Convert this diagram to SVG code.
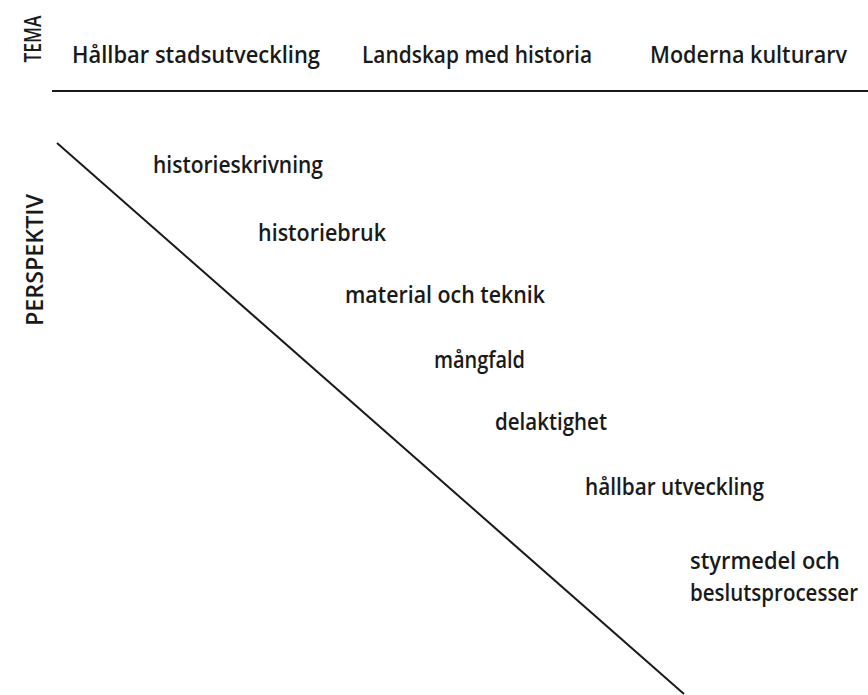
<svg xmlns="http://www.w3.org/2000/svg" width="868" height="695" viewBox="0 0 868 695">
<style>
text{font-family:"Open Sans","Liberation Sans",sans-serif;font-size:22.5px;font-weight:600;fill:#1a1a1a}
.ax{font-size:24px}
line{stroke:#1a1a1a;stroke-width:2}
</style>
<rect width="868" height="695" fill="#fff"/>
<g id="axis-tema"><text class="ax" transform="translate(41,39) rotate(-90)" text-anchor="middle" textLength="47" lengthAdjust="spacingAndGlyphs">TEMA</text></g>
<g id="axis-perspektiv"><text class="ax" transform="translate(43,260) rotate(-90)" text-anchor="middle" textLength="132" lengthAdjust="spacingAndGlyphs">PERSPEKTIV</text></g>
<g id="tema-1"><text x="72" y="63" textLength="248" lengthAdjust="spacingAndGlyphs">Hållbar stadsutveckling</text></g>
<g id="tema-2"><text x="362" y="63" textLength="230" lengthAdjust="spacingAndGlyphs">Landskap med historia</text></g>
<g id="tema-3"><text x="650" y="63" textLength="197" lengthAdjust="spacingAndGlyphs">Moderna kulturarv</text></g>
<g id="connectors">
<line x1="52" y1="91" x2="868" y2="91"/>
<line x1="57" y1="143" x2="684" y2="694"/>
</g>
<g id="p-1"><text x="153" y="173" textLength="170" lengthAdjust="spacingAndGlyphs">historieskrivning</text></g>
<g id="p-2"><text x="258" y="241" textLength="128" lengthAdjust="spacingAndGlyphs">historiebruk</text></g>
<g id="p-3"><text x="345" y="303" textLength="200" lengthAdjust="spacingAndGlyphs">material och teknik</text></g>
<g id="p-4"><text x="434" y="368" textLength="91" lengthAdjust="spacingAndGlyphs">mångfald</text></g>
<g id="p-5"><text x="495" y="430" textLength="112" lengthAdjust="spacingAndGlyphs">delaktighet</text></g>
<g id="p-6"><text x="585" y="495" textLength="179" lengthAdjust="spacingAndGlyphs">hållbar utveckling</text></g>
<g id="p-7"><text x="690" y="569" textLength="150" lengthAdjust="spacingAndGlyphs">styrmedel och</text><text x="690" y="601" textLength="168" lengthAdjust="spacingAndGlyphs">beslutsprocesser</text></g>
</svg>
